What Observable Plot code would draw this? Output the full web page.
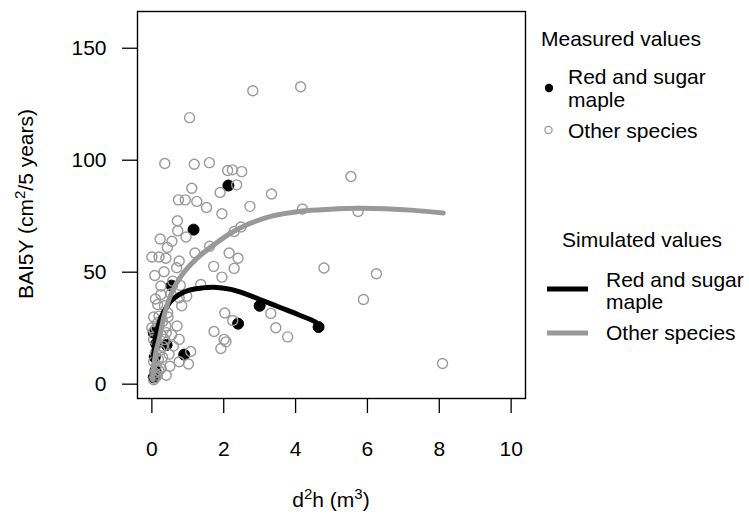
<!DOCTYPE html>
<html><head><meta charset="utf-8">
<script src="https://cdn.jsdelivr.net/npm/d3@7"></script>
<script src="https://cdn.jsdelivr.net/npm/@observablehq/plot@0.6"></script>
<style>body{margin:0;background:#fff;} #chart{width:749px;height:519px;}</style>
</head><body><div id="chart"></div>
<script>
// Axis ticks
const xTicks = [0, 2, 4, 6, 8, 10];
const yTicks = [0, 50, 100, 150];

// Measured values: red and sugar maple (filled)
const mapleX = [2.13, 1.16, 0.55, 3.0, 2.40, 4.64, 0.9, 0.41, 0.05, 0.08, 0.12, 0.05, 0.10];
const mapleY = [88.7, 69.0, 44.0, 35.0, 27.0, 25.5, 13.2, 17.5, 23.0, 12.0, 18.0, 3.0, 6.0];

// Measured values: other species (open)
const otherX = [2.81, 4.14, 1.05, 0.36, 1.18, 1.60, 2.11, 2.24, 2.50, 2.36, 1.11, 1.90, 3.33,
  0.74, 0.93, 1.25, 1.52, 2.73, 1.95, 0.71, 0.72, 0.95, 0.23, 0.56, 0.43, 2.29, 2.48, 1.61,
  2.15, 2.40, 1.20, 0.00, 0.20, 0.39, 0.76, 1.72, 2.29, 4.79, 0.08, 0.34, 0.69, 1.95, 0.58,
  0.25, 1.36, 0.79, 0.25, 0.53, 0.76, 0.97, 0.83, 0.16, 0.44, 0.20, 0.70, 0.16, 0.06, 0.00,
  0.39, 3.31, 2.03, 2.25, 3.45, 3.78, 1.73, 2.01, 2.06, 1.92, 0.76, 1.08, 0.76, 1.02, 0.48,
  5.54, 4.19, 5.74, 6.25, 5.89, 8.09,
  0.05, 0.10, 0.15, 0.08, 0.20, 0.12, 0.25, 0.05, 0.18, 0.30, 0.10, 0.22, 0.30, 0.15, 0.35,
  0.05, 0.25, 0.40, 0.12, 0.30, 0.05, 0.35, 0.10, 0.45, 0.55, 0.60, 0.50, 0.40];
const otherY = [131.0, 132.8, 119.0, 98.5, 98.2, 98.9, 95.4, 95.7, 94.9, 89.0, 87.5, 85.6, 84.9,
  82.3, 82.3, 81.6, 78.9, 79.4, 76.1, 73.0, 68.5, 65.7, 64.8, 63.8, 61.0, 68.2, 70.2, 61.6,
  58.6, 56.2, 58.6, 56.8, 56.8, 56.2, 55.0, 52.6, 51.7, 51.9, 48.5, 50.2, 52.0, 47.8, 46.0,
  43.8, 44.5, 44.1, 40.0, 40.4, 38.6, 39.3, 35.0, 35.6, 31.9, 30.4, 26.0, 27.4, 23.7, 25.2,
  26.0, 31.6, 31.8, 28.4, 25.2, 21.1, 23.5, 20.0, 18.9, 15.9, 20.0, 14.6, 10.0, 9.0, 13.4,
  92.7, 78.2, 77.1, 49.3, 37.8, 9.2,
  2.0, 3.0, 4.0, 5.0, 6.0, 8.0, 7.0, 10.0, 11.0, 12.0, 14.0, 15.0, 17.0, 18.0, 20.0,
  20.0, 22.0, 23.0, 25.0, 28.0, 30.0, 35.0, 38.0, 30.0, 22.0, 17.0, 8.0, 4.0];

// Simulated values (curves)
const simMapleX = [0.05, 0.11, 0.20, 0.34, 0.53, 0.76, 1.04, 1.41, 1.73, 2.20, 2.66, 3.12, 3.59, 4.05, 4.56, 4.64];
const simMapleY = [12.6, 21.5, 27.4, 32.6, 37.1, 40.0, 42.0, 43.0, 43.3, 42.3, 40.0, 37.1, 34.1, 31.2, 27.7, 26.3];
const simOtherX = [0.02, 0.06, 0.12, 0.20, 0.35, 0.53, 0.81, 1.27, 1.73, 2.20, 2.66, 3.31, 4.14, 4.98, 5.74, 6.50, 7.30, 8.11];
const simOtherY = [2.0, 9.0, 15.0, 20.0, 31.0, 40.0, 48.2, 56.4, 62.3, 67.5, 71.3, 74.9, 77.2, 78.1, 78.5, 78.3, 77.6, 76.4];

const FONT = 'Arial, "Liberation Sans", Helvetica, sans-serif';
const GREY = "#999999";

const mapleData = mapleX.map((x, i) => ({x, y: mapleY[i]}));
const otherData = otherX.map((x, i) => ({x, y: otherY[i]}));
const simMaple = simMapleX.map((x, i) => ({x, y: simMapleY[i]}));
const simOther = simOtherX.map((x, i) => ({x, y: simOtherY[i]}));

const chart = Plot.plot({
  width: 749, height: 519,
  marginLeft: 137, marginRight: 224, marginTop: 11, marginBottom: 121,
  style: {fontFamily: FONT, fontSize: "21px", color: "#000", background: "#fff"},
  x: {domain: [-0.4, 10.4]},
  y: {domain: [-6.4, 166.4]},
  marks: [
    Plot.axisX({ticks: xTicks, tickSize: 15, tickPadding: 28, label: null, fontSize: 21, strokeWidth: 1.3, tickFormat: d => String(d)}),
    Plot.axisY({ticks: yTicks, tickSize: 15, tickPadding: 16, label: null, fontSize: 21, strokeWidth: 1.3, tickFormat: d => String(d)}),
    Plot.dot(mapleData, {x: "x", y: "y", r: 5.5, fill: "#000", stroke: "#000", strokeWidth: 1}),
    Plot.dot(otherData, {x: "x", y: "y", r: 5, fill: "none", stroke: GREY, strokeWidth: 1.4}),
    Plot.line(simMaple, {x: "x", y: "y", stroke: "#000", strokeWidth: 5, curve: "catmull-rom"}),
    Plot.line(simOther, {x: "x", y: "y", stroke: GREY, strokeWidth: 5, curve: "catmull-rom"}),
    Plot.frame({stroke: "#000", strokeWidth: 1.4})
  ]
});
document.getElementById("chart").appendChild(chart);

const svg = d3.select(chart);
const g = svg.append("g").attr("font-family", FONT).attr("font-size", 21).attr("fill", "#000");

// X title: d²h (m³)
const xt = g.append("text").attr("x", 331).attr("y", 507).attr("text-anchor", "middle");
xt.append("tspan").text("d");
xt.append("tspan").attr("dy", -8).attr("font-size", 15).text("2");
xt.append("tspan").attr("dy", 8).text("h (m");
xt.append("tspan").attr("dy", -8).attr("font-size", 15).text("3");
xt.append("tspan").attr("dy", 8).text(")");

// Y title: BAI5Y (cm²/5 years)
const yt = g.append("text").attr("transform", "translate(33,204) rotate(-90)").attr("text-anchor", "middle");
yt.append("tspan").text("BAI5Y (cm");
yt.append("tspan").attr("dy", -8).attr("font-size", 15).text("2");
yt.append("tspan").attr("dy", 8).text("/5 years)");

// Legend (left-aligned text)
const lg = g.append("g").attr("text-anchor", "start");
lg.append("text").attr("x", 541).attr("y", 46).text("Measured values");
lg.append("circle").attr("cx", 549).attr("cy", 88).attr("r", 4.2).attr("fill", "#000");
lg.append("text").attr("x", 568).attr("y", 84).text("Red and sugar");
lg.append("text").attr("x", 568).attr("y", 107).text("maple");
lg.append("circle").attr("cx", 548.5).attr("cy", 130).attr("r", 3.6).attr("fill", "none").attr("stroke", GREY).attr("stroke-width", 1.2);
lg.append("text").attr("x", 568).attr("y", 138).text("Other species");

lg.append("text").attr("x", 562).attr("y", 247).text("Simulated values");
lg.append("line").attr("x1", 547).attr("x2", 588).attr("y1", 289).attr("y2", 289).attr("stroke", "#000").attr("stroke-width", 5);
lg.append("text").attr("x", 606).attr("y", 287).text("Red and sugar");
lg.append("text").attr("x", 606).attr("y", 309).text("maple");
lg.append("line").attr("x1", 547).attr("x2", 588).attr("y1", 333).attr("y2", 333).attr("stroke", GREY).attr("stroke-width", 5);
lg.append("text").attr("x", 606).attr("y", 340).text("Other species");
</script>
</body></html>
